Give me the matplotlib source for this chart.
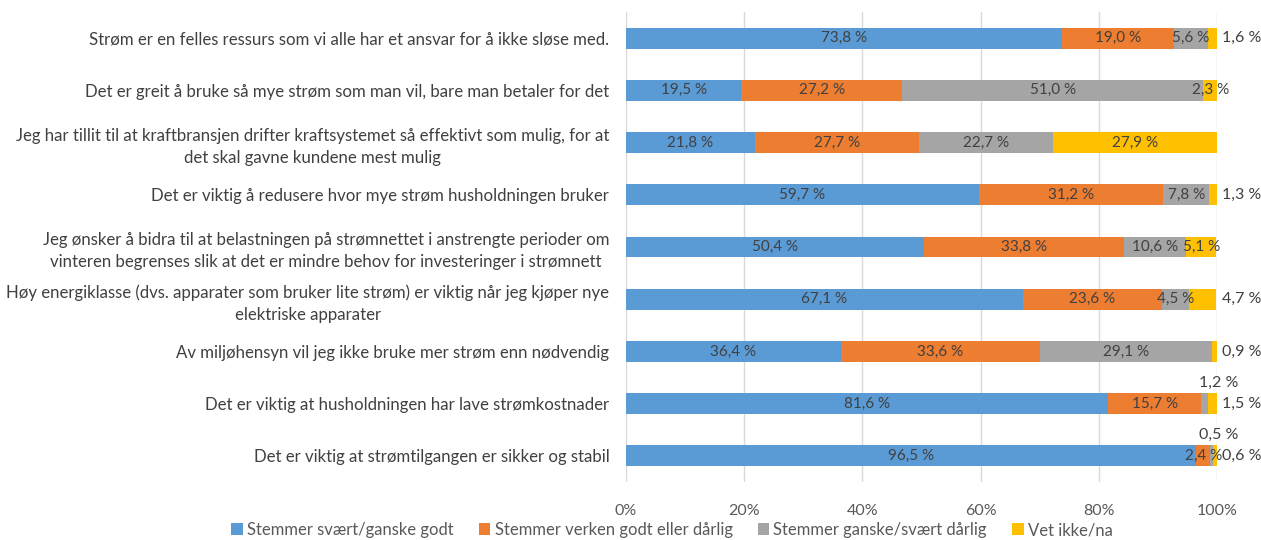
import matplotlib
matplotlib.use("Agg")
import matplotlib.pyplot as plt
from matplotlib.patches import Patch

categories = [
    "Strøm er en felles ressurs som vi alle har et ansvar for å ikke sløse med.",
    "Det er greit å bruke så mye strøm som man vil, bare man betaler for det",
    "Jeg har tillit til at kraftbransjen drifter kraftsystemet så effektivt som mulig, for at\ndet skal gavne kundene mest mulig",
    "Det er viktig å redusere hvor mye strøm husholdningen bruker",
    "Jeg ønsker å bidra til at belastningen på strømnettet i anstrengte perioder om\nvinteren begrenses slik at det er mindre behov for investeringer i strømnett",
    "Høy energiklasse (dvs. apparater som bruker lite strøm) er viktig når jeg kjøper nye\nelektriske apparater",
    "Av miljøhensyn vil jeg ikke bruke mer strøm enn nødvendig",
    "Det er viktig at husholdningen har lave strømkostnader",
    "Det er viktig at strømtilgangen er sikker og stabil",
]
series_names = [
    "Stemmer svært/ganske godt",
    "Stemmer verken godt eller dårlig",
    "Stemmer ganske/svært dårlig",
    "Vet ikke/na",
]
godt = [73.8, 19.5, 21.8, 59.7, 50.4, 67.1, 36.4, 81.6, 96.5]
verken = [19.0, 27.2, 27.7, 31.2, 33.8, 23.6, 33.6, 15.7, 2.4]
darlig = [5.6, 51.0, 22.7, 7.8, 10.6, 4.5, 29.1, 1.2, 0.5]
vet_ikke = [1.6, 2.3, 27.9, 1.3, 5.1, 4.7, 0.9, 1.5, 0.6]
x_ticks = [0, 20, 40, 60, 80, 100]

series = [godt, verken, darlig, vet_ikke]
colors = ["#5B9BD5", "#ED7D31", "#A5A5A5", "#FFC000"]

# label placement style: (row, series) -> 'out' (right of bar) or 'above'
placement = {
    (0, 3): "out", (3, 3): "out", (5, 3): "out", (6, 3): "out",
    (7, 3): "out", (8, 3): "out", (7, 2): "above", (8, 2): "above",
}

FONT = ["Lato", "DejaVu Sans"]
plt.rcParams["font.family"] = FONT

fig = plt.figure(figsize=(12.61, 5.40), dpi=100)
ax = fig.add_axes([626 / 1261, 1 - 482 / 540, (1217 - 626) / 1261, (482 - 12) / 540])

n = len(categories)
ypos = list(range(n))
left = [0.0] * n
for s, (vals, col, name) in enumerate(zip(series, colors, series_names)):
    bars = ax.barh(ypos, vals, left=left, height=0.4, color=col, label=name, zorder=3)
    for i, (b, v) in enumerate(zip(bars, vals)):
        lab = f"{v:.1f} %".replace(".", ",")
        mode = placement.get((i, s), "in")
        if mode == "in":
            ax.text(left[i] + v / 2, i, lab, ha="center", va="center",
                    fontsize=11, color="#404040", zorder=4)
        elif mode == "out":
            ax.text(100.8, i, lab, ha="left", va="center",
                    fontsize=11.5, color="#404040", zorder=4)
        else:
            ax.text(100.3, i - 0.4, lab, ha="center", va="center",
                    fontsize=11.5, color="#404040", zorder=4)
    left = [l + v for l, v in zip(left, vals)]

ax.set_xlim(0, 100)
ax.set_ylim(n - 0.5, -0.5)
ax.set_xticks(x_ticks)
ax.set_xticklabels([f"{t}%" for t in x_ticks], fontsize=11.5, color="#595959")
ax.set_yticks(ypos)
ax.set_yticklabels(categories, fontsize=12.1, color="#404040", linespacing=1.45)
for lab in ax.get_yticklabels():
    lab.set_horizontalalignment("right")
    lab.set_multialignment("center")
ax.tick_params(axis="both", length=0)
ax.tick_params(axis="y", pad=12)
ax.tick_params(axis="x", pad=16)
ax.grid(axis="x", color="#D9D9D9", linewidth=1, zorder=0)
for sp in ax.spines.values():
    sp.set_visible(False)

handles = [Patch(facecolor=c, edgecolor="none") for c in colors]
fig.legend(handles, series_names, loc="center", bbox_to_anchor=(672 / 1261, 1 - 530 / 540),
           ncol=4, frameon=False, fontsize=12, handlelength=0.7, handleheight=0.7,
           handletextpad=0.25, columnspacing=1.5, labelcolor="#595959")

fig.savefig("out.png", dpi=100)
